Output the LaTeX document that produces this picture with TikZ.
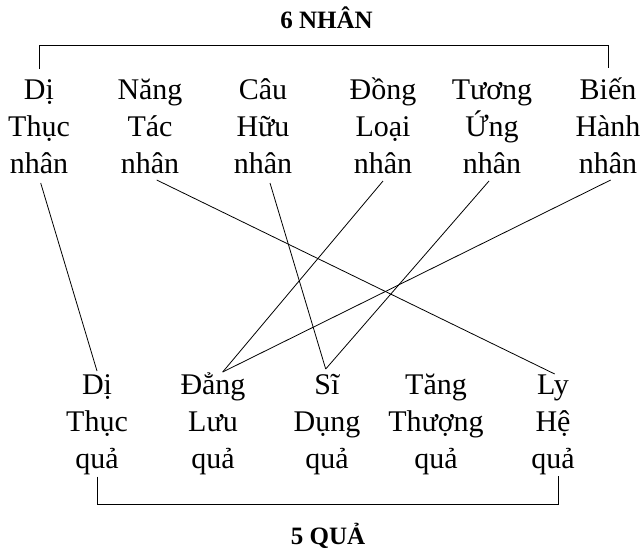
\documentclass[tikz,border=0pt]{standalone}
\usepackage{fontspec}
\setmainfont{Liberation Serif}
\begin{document}
\begin{tikzpicture}[x=1pt,y=-1pt,
  word/.style={align=center,inner sep=0pt,anchor=base,font=\fontsize{30}{36.7}\selectfont},
  heading/.style={inner sep=0pt,anchor=base,font=\fontsize{25}{30}\selectfont\bfseries},
  link/.style={line width=0.8pt,black}]
\useasboundingbox (0,0) rectangle (643,552);
% titles
\node[heading] (t6) at (326.5,28) {6 NHÂN};
\node[heading] (t5) at (328,544) {5 QUẢ};
% six causes (anchor = baseline of the last line)
\node[word] (A1) at (39,173)  {Dị\\Thục\\nhân};
\node[word] (A2) at (150,173) {Năng\\Tác\\nhân};
\node[word] (A3) at (263,173) {Câu\\Hữu\\nhân};
\node[word] (A4) at (383,173) {Đồng\\Loại\\nhân};
\node[word] (A5) at (492,173) {Tương\\Ứng\\nhân};
\node[word] (A6) at (608,173) {Biến\\Hành\\nhân};
% five effects
\node[word] (B1) at (97,468)  {Dị\\Thục\\quả};
\node[word] (B2) at (213,468) {Đẳng\\Lưu\\quả};
\node[word] (B3) at (327,468) {Sĩ\\Dụng\\quả};
\node[word] (B4) at (436,468) {Tăng\\Thượng\\quả};
\node[word] (B5) at (553,468) {Ly\\Hệ\\quả};
% brackets
\draw[link] ([yshift=104pt]A1.base) |- ([yshift=127.5pt]A6.base) -- ([yshift=105pt]A6.base);
\draw[link] ([yshift=-8.5pt]B1.base) |- ([xshift=5pt,yshift=-36pt]B5.base) -- ([xshift=5pt,yshift=-8pt]B5.base);
% connectors
\draw[link] ([xshift=1.7pt,yshift=-10pt]A1.base) -- ([yshift=97pt]B1.base);
\draw[link] ([xshift=6.7pt,yshift=-7pt]A2.base) -- ([xshift=1.7pt,yshift=94pt]B5.base);
\draw[link] ([xshift=7pt,yshift=-10pt]A3.base) -- ([xshift=-1.3pt,yshift=99pt]B3.base);
\draw[link] ([yshift=-8pt]A4.base) -- ([xshift=9.7pt,yshift=96pt]B2.base);
\draw[link] ([xshift=-3pt,yshift=-8pt]A5.base) -- ([xshift=-1.3pt,yshift=99pt]B3.base);
\draw[link] ([xshift=2.7pt,yshift=-7pt]A6.base) -- ([xshift=9.7pt,yshift=96pt]B2.base);
\end{tikzpicture}
\end{document}
